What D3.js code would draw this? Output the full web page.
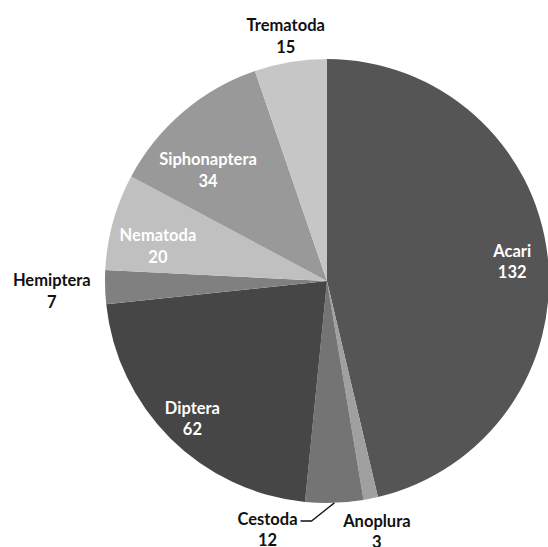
<!DOCTYPE html>
<html>
<head>
<meta charset="utf-8">
<script src="https://cdn.jsdelivr.net/npm/d3@7"></script>
<style>
  body { margin: 0; background: #fff; }
  text { font-family: Lato, "Open Sans", sans-serif; font-weight: 700; font-size: 16.5px; }
</style>
</head>
<body>
<svg width="548" height="547"></svg>
<script>
const categories = ["Acari", "Anoplura", "Cestoda", "Diptera", "Hemiptera", "Nematoda", "Siphonaptera", "Trematoda"];
const counts = [132, 3, 12, 62, 7, 20, 34, 15];

// slice fills, in the same order as categories
const fills = ["#555555", "#a0a0a0", "#747474", "#464646", "#808080", "#c0c0c0", "#999999", "#c6c6c6"];

// where each label sits: radius as a share of the pie radius, inside or outside
const labelRadius = { Acari: 0.84, Anoplura: 1.14, Cestoda: 1.14, Diptera: 0.86, Hemiptera: 1.24, Nematoda: 0.78, Siphonaptera: 0.74, Trematoda: 1.13 };
const outside = { Anoplura: true, Cestoda: true, Hemiptera: true, Trematoda: true };
const angleShift = { Cestoda: 15.5, Siphonaptera: -6, Nematoda: -3 }; // degrees, for crowded labels

const data = categories.map((c, i) => ({ name: c, value: counts[i], fill: fills[i] }));

const svg = d3.select("svg");
const cx = 327, cy = 281, R = 222;

const pie = d3.pie().value(d => d.value).sort(null);
const arc = d3.arc().innerRadius(0).outerRadius(R);
const arcs = pie(data);

const g = svg.append("g").attr("transform", `translate(${cx},${cy})`);

g.selectAll("path")
  .data(arcs)
  .join("path")
  .attr("d", arc)
  .attr("fill", d => d.data.fill);

function labelPos(d) {
  const mid = (d.startAngle + d.endAngle) / 2 + (angleShift[d.data.name] || 0) * Math.PI / 180;
  const r = R * labelRadius[d.data.name];
  return [r * Math.sin(mid), -r * Math.cos(mid)];
}

const label = g.selectAll("text.lbl")
  .data(arcs)
  .join("text")
  .attr("class", "lbl")
  .attr("text-anchor", "middle")
  .attr("fill", d => outside[d.data.name] ? "#111" : "#fff")
  .attr("transform", d => `translate(${labelPos(d)})`);

label.append("tspan").attr("x", 0).attr("dy", "-0.15em").text(d => d.data.name);
label.append("tspan").attr("x", 0).attr("dy", "1.3em").text(d => d.data.value);

// leader line for the shifted Cestoda label
arcs.filter(d => d.data.name === "Cestoda").forEach(d => {
  const mid = (d.startAngle + d.endAngle) / 2;
  const start = [R * Math.sin(mid), -R * Math.cos(mid)];
  const [lx, ly] = labelPos(d);
  const node = label.filter(e => e === d).select("tspan").node();
  const w = node.getComputedTextLength();
  const endX = lx + w / 2 + 3, y = ly - 6;
  g.append("polyline")
    .attr("points", [start, [endX + 11, y], [endX, y]].map(p => p.join(",")).join(" "))
    .attr("fill", "none")
    .attr("stroke", "#111")
    .attr("stroke-width", 1.3);
});
</script>
</body>
</html>
